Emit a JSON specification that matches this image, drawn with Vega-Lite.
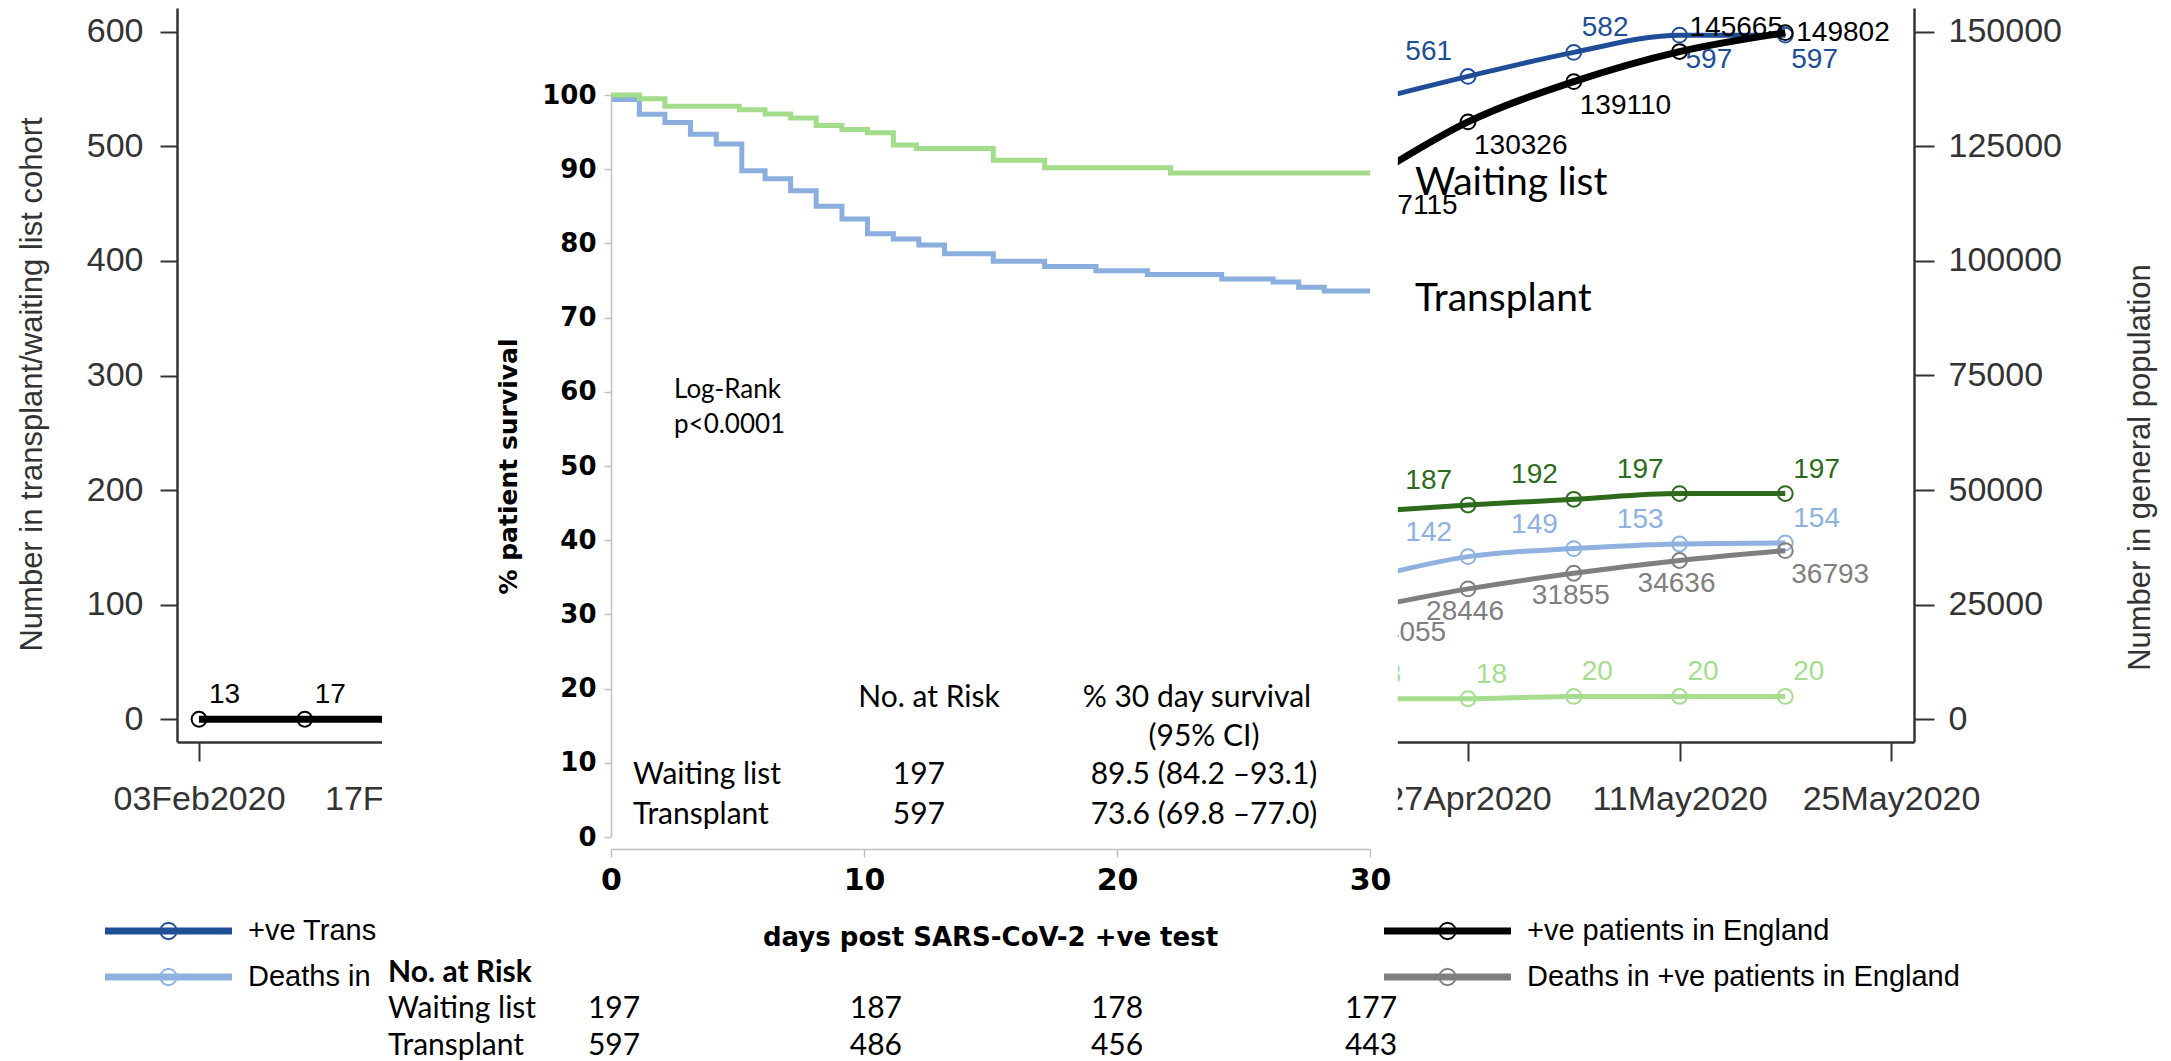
{
  "$schema": "https://vega.github.io/schema/vega-lite/v6.json",
  "width": 2171,
  "height": 1061,
  "padding": 0,
  "autosize": {"type": "none"},
  "background": "white",
  "config": {"view": {"stroke": null}, "axis": {"grid": false}, "font": "Liberation Sans"},
  "datasets": {
    "bg": [
      {"series": "+ve patients in England", "date": "2020-02-03", "value": 13},
      {"series": "+ve patients in England", "date": "2020-02-10", "value": 17},
      {"series": "+ve patients in England", "date": "2020-02-17", "value": 20},
      {"series": "+ve patients in England", "date": "2020-04-20", "value": 117115},
      {"series": "+ve patients in England", "date": "2020-04-27", "value": 130326},
      {"series": "+ve patients in England", "date": "2020-05-04", "value": 139110},
      {"series": "+ve patients in England", "date": "2020-05-11", "value": 145665},
      {"series": "+ve patients in England", "date": "2020-05-18", "value": 149802},
      {"series": "Deaths in +ve patients in England", "date": "2020-04-20", "value": 24055},
      {"series": "Deaths in +ve patients in England", "date": "2020-04-27", "value": 28446},
      {"series": "Deaths in +ve patients in England", "date": "2020-05-04", "value": 31855},
      {"series": "Deaths in +ve patients in England", "date": "2020-05-11", "value": 34636},
      {"series": "Deaths in +ve patients in England", "date": "2020-05-18", "value": 36793},
      {"series": "+ve Transplant patients", "date": "2020-04-20", "value": 538},
      {"series": "+ve Transplant patients", "date": "2020-04-27", "value": 561},
      {"series": "+ve Transplant patients", "date": "2020-05-04", "value": 582},
      {"series": "+ve Transplant patients", "date": "2020-05-11", "value": 597},
      {"series": "+ve Transplant patients", "date": "2020-05-18", "value": 597},
      {"series": "Deaths in transplant patients", "date": "2020-04-20", "value": 122},
      {"series": "Deaths in transplant patients", "date": "2020-04-27", "value": 142},
      {"series": "Deaths in transplant patients", "date": "2020-05-04", "value": 149},
      {"series": "Deaths in transplant patients", "date": "2020-05-11", "value": 153},
      {"series": "Deaths in transplant patients", "date": "2020-05-18", "value": 154},
      {"series": "+ve Waiting list patients", "date": "2020-04-20", "value": 181},
      {"series": "+ve Waiting list patients", "date": "2020-04-27", "value": 187},
      {"series": "+ve Waiting list patients", "date": "2020-05-04", "value": 192},
      {"series": "+ve Waiting list patients", "date": "2020-05-11", "value": 197},
      {"series": "+ve Waiting list patients", "date": "2020-05-18", "value": 197},
      {"series": "Deaths in waiting list patients", "date": "2020-04-20", "value": 18},
      {"series": "Deaths in waiting list patients", "date": "2020-04-27", "value": 18},
      {"series": "Deaths in waiting list patients", "date": "2020-05-04", "value": 20},
      {"series": "Deaths in waiting list patients", "date": "2020-05-11", "value": 20},
      {"series": "Deaths in waiting list patients", "date": "2020-05-18", "value": 20}
    ],
    "km": [
      {"group": "Transplant", "day": 0, "pct": 99.4},
      {"group": "Transplant", "day": 1.12, "pct": 97.4},
      {"group": "Transplant", "day": 2.13, "pct": 96.3},
      {"group": "Transplant", "day": 3.14, "pct": 94.7},
      {"group": "Transplant", "day": 4.16, "pct": 93.4},
      {"group": "Transplant", "day": 5.17, "pct": 89.8},
      {"group": "Transplant", "day": 6.09, "pct": 88.7},
      {"group": "Transplant", "day": 7.1, "pct": 87.1},
      {"group": "Transplant", "day": 8.11, "pct": 85.0},
      {"group": "Transplant", "day": 9.13, "pct": 83.3},
      {"group": "Transplant", "day": 10.14, "pct": 81.3},
      {"group": "Transplant", "day": 11.16, "pct": 80.6},
      {"group": "Transplant", "day": 12.17, "pct": 79.8},
      {"group": "Transplant", "day": 13.18, "pct": 78.6},
      {"group": "Transplant", "day": 15.11, "pct": 77.6},
      {"group": "Transplant", "day": 17.14, "pct": 76.9},
      {"group": "Transplant", "day": 19.17, "pct": 76.3},
      {"group": "Transplant", "day": 21.2, "pct": 75.8},
      {"group": "Transplant", "day": 24.14, "pct": 75.2},
      {"group": "Transplant", "day": 26.17, "pct": 74.8},
      {"group": "Transplant", "day": 27.18, "pct": 74.1},
      {"group": "Transplant", "day": 28.19, "pct": 73.6},
      {"group": "Transplant", "day": 30, "pct": 73.6},
      {"group": "Waiting list", "day": 0, "pct": 100},
      {"group": "Waiting list", "day": 1.12, "pct": 99.5},
      {"group": "Waiting list", "day": 2.13, "pct": 98.5},
      {"group": "Waiting list", "day": 5.07, "pct": 98.0},
      {"group": "Waiting list", "day": 6.09, "pct": 97.45},
      {"group": "Waiting list", "day": 7.1, "pct": 96.9},
      {"group": "Waiting list", "day": 8.11, "pct": 95.9},
      {"group": "Waiting list", "day": 9.13, "pct": 95.35},
      {"group": "Waiting list", "day": 10.14, "pct": 94.9},
      {"group": "Waiting list", "day": 11.16, "pct": 93.25},
      {"group": "Waiting list", "day": 12.07, "pct": 92.8},
      {"group": "Waiting list", "day": 15.11, "pct": 91.2},
      {"group": "Waiting list", "day": 17.14, "pct": 90.2},
      {"group": "Waiting list", "day": 22.11, "pct": 89.5},
      {"group": "Waiting list", "day": 30, "pct": 89.5}
    ],
    "kmcenter": [
      {"text": "No. at Risk", "day": 12.57, "pct": 18.7},
      {"text": "% 30 day survival", "day": 23.16, "pct": 18.7},
      {"text": "(95% CI)", "day": 23.44, "pct": 13.5},
      {"text": "197", "day": 12.17, "pct": 8.36},
      {"text": "89.5 (84.2 –93.1)", "day": 23.44, "pct": 8.36},
      {"text": "597", "day": 12.17, "pct": 2.96},
      {"text": "73.6 (69.8 –77.0)", "day": 23.44, "pct": 2.96},
      {"text": "197", "day": 0.12, "pct": -23.2},
      {"text": "187", "day": 10.47, "pct": -23.2},
      {"text": "178", "day": 20.0, "pct": -23.2},
      {"text": "177", "day": 30.04, "pct": -23.2},
      {"text": "597", "day": 0.12, "pct": -28.2},
      {"text": "486", "day": 10.47, "pct": -28.2},
      {"text": "456", "day": 20.0, "pct": -28.2},
      {"text": "443", "day": 30.04, "pct": -28.2}
    ],
    "kmleft": [
      {"text": "Waiting list", "day": 0.87, "pct": 8.36},
      {"text": "Transplant", "day": 0.87, "pct": 2.96},
      {"text": "Waiting list", "day": -8.81, "pct": -23.2},
      {"text": "Transplant", "day": -8.81, "pct": -28.2}
    ],
    "kmlog": [
      {"text": "Log-Rank", "day": 2.49, "pct": 60.2},
      {"text": "p<0.0001", "day": 2.49, "pct": 55.5}
    ],
    "kmbold": [
      {"text": "No. at Risk", "day": -8.81, "pct": -18.3}
    ],
    "kmbig": [
      {"text": "Waiting list", "day": 31.78, "pct": 88.2},
      {"text": "Transplant", "day": 31.78, "pct": 72.5}
    ]
  },
  "layer": [
    {
      "data": {"name": "bg"},
      "encoding": {
        "x": {
          "field": "date", "type": "temporal",
          "scale": {"type": "utc", "nice": false, "range": [177, 1914],
            "domain": [{"year": 2020, "month": 2, "date": 1, "hours": 13, "minutes": 0, "utc": true},
                       {"year": 2020, "month": 5, "date": 26, "hours": 12, "minutes": 30, "utc": true}]},
          "axis": {
            "orient": "bottom", "offset": -319, "title": null, "format": "%d%b%Y",
            "values": [
              {"year": 2020, "month": 2, "date": 3, "utc": true},
              {"year": 2020, "month": 2, "date": 17, "utc": true},
              {"year": 2020, "month": 4, "date": 27, "utc": true},
              {"year": 2020, "month": 5, "date": 11, "utc": true},
              {"year": 2020, "month": 5, "date": 25, "utc": true}
            ],
            "labelFont": "Liberation Sans", "labelFontSize": 34, "labelColor": "#333333", "labelPadding": 21,
            "labelFlush": false, "labelOverlap": false, "labelAngle": 0,
            "tickSize": 19, "tickWidth": 2, "tickColor": "#333333",
            "domainColor": "#333333", "domainWidth": 2.5, "grid": false, "zindex": 0
          }
        },
        "color": {
          "field": "series", "type": "nominal",
          "scale": {
            "domain": ["+ve Transplant patients", "+ve patients in England", "Deaths in transplant patients", "Deaths in +ve patients in England", "+ve Waiting list patients", "Deaths in waiting list patients"],
            "range": ["#1f4e97", "#000000", "#8fb1e0", "#7f7f7f", "#2e6a1c", "#a6dd8e"]
          },
          "legend": {
            "orient": "none", "legendX": 105, "legendY": 911, "title": null, "padding": 0,
            "columns": 2, "columnPadding": 1007, "rowPadding": 6, "clipHeight": 40,
            "values": ["+ve Transplant patients", "Deaths in transplant patients", "+ve patients in England", "Deaths in +ve patients in England"],
            "labelExpr": "datum.label == '+ve Transplant patients' ? '+ve Trans' : (datum.label == 'Deaths in transplant patients' ? 'Deaths in' : datum.label)",
            "symbolType": "M-1,-0.055H1V0.055H-1Z M0.145,0L0.126,0.0725L0.0725,0.126L0,0.145L-0.0725,0.126L-0.126,0.0725L-0.145,0L-0.126,-0.0725L-0.0725,-0.126L0,-0.145L0.0725,-0.126L0.126,-0.0725Z M0.115,0L0.1,-0.0575L0.0575,-0.1L0,-0.115L-0.0575,-0.1L-0.1,-0.0575L-0.115,0L-0.1,0.0575L-0.0575,0.1L0,0.115L0.0575,0.1L0.1,0.0575Z",
            "symbolSize": 16129, "symbolStrokeWidth": 0, "symbolOffset": 0,
            "labelFont": "Liberation Sans", "labelFontSize": 29, "labelColor": "#000000", "labelOffset": 16, "labelLimit": 800,
            "encoding": {
              "symbols": {
                "fill": {
                  "condition": [
                    {"test": "datum.value == '+ve Transplant patients'", "value": "#1f4e97"},
                    {"test": "datum.value == 'Deaths in transplant patients'", "value": "#8fb1e0"},
                    {"test": "datum.value == '+ve patients in England'", "value": "#000000"}
                  ],
                  "value": "#7f7f7f"
                },
                "stroke": {"value": "transparent"},
                "strokeWidth": {"value": 0},
                "strokeOpacity": {"value": 0},
                "fillOpacity": {"value": 1},
                "opacity": {"value": 1}
              }
            }
          }
        }
      },
      "layer": [
        {
          "transform": [{"filter": {"field": "series", "oneOf": ["+ve Transplant patients", "Deaths in transplant patients", "+ve Waiting list patients", "Deaths in waiting list patients"]}}],
          "encoding": {
            "y": {
              "field": "value", "type": "quantitative",
              "scale": {"domain": [-19.5, 620.7], "range": [741.7, 8], "nice": false, "zero": false},
              "axis": {
                "orient": "left", "offset": -177, "values": [0, 100, 200, 300, 400, 500, 600], "format": "d",
                "title": "Number in transplant/waiting list cohort", "titleFont": "Liberation Sans", "titleFontWeight": "normal",
                "titleFontSize": 31, "titleColor": "#333333", "titleX": -145, "titleY": 384, "titleAngle": 270, "titleBaseline": "middle", "titleAlign": "center",
                "labelFont": "Liberation Sans", "labelFontSize": 34, "labelColor": "#333333", "labelPadding": 17,
                "tickSize": 17, "tickWidth": 2, "tickColor": "#333333", "domainColor": "#333333", "domainWidth": 2.5,
                "grid": false, "zindex": 0, "labelFlush": false, "labelOverlap": false
              }
            }
          },
          "layer": [
            {"mark": {"type": "line", "interpolate": "monotone", "strokeWidth": 5}},
            {"mark": {"type": "point", "filled": false, "size": 220, "strokeWidth": 2, "opacity": 1}},
            {
              "transform": [{"filter": "(datum.series=='+ve Transplant patients' && (utcmonth(datum.date)*100+utcdate(datum.date))<=327) || ((datum.series=='+ve Waiting list patients' || datum.series=='Deaths in transplant patients') && (utcmonth(datum.date)*100+utcdate(datum.date))<=411)"}],
              "mark": {"type": "text", "align": "right", "baseline": "middle", "dx": -16, "dy": -24, "fontSize": 28, "font": "Liberation Sans"},
              "encoding": {"text": {"field": "value", "type": "quantitative", "format": "d"}}
            },
            {
              "transform": [{"filter": "(datum.series=='+ve Transplant patients' && (utcmonth(datum.date)*100+utcdate(datum.date))==404) || ((datum.series=='+ve Waiting list patients' || datum.series=='Deaths in transplant patients') && (utcmonth(datum.date)*100+utcdate(datum.date))==418) || datum.series=='Deaths in waiting list patients'"}],
              "mark": {"type": "text", "align": "left", "baseline": "middle", "dx": 8, "dy": -24, "fontSize": 28, "font": "Liberation Sans"},
              "encoding": {"text": {"field": "value", "type": "quantitative", "format": "d"}}
            },
            {
              "transform": [{"filter": "datum.series=='+ve Transplant patients' && (utcmonth(datum.date)*100+utcdate(datum.date))>=411"}],
              "mark": {"type": "text", "align": "left", "baseline": "middle", "dx": 6, "dy": 25, "fontSize": 28, "font": "Liberation Sans"},
              "encoding": {"text": {"field": "value", "type": "quantitative", "format": "d"}}
            }
          ]
        },
        {
          "transform": [{"filter": {"field": "series", "oneOf": ["+ve patients in England", "Deaths in +ve patients in England"]}}],
          "encoding": {
            "y": {
              "field": "value", "type": "quantitative",
              "scale": {"domain": [-4887, 155170], "range": [741.7, 8], "nice": false, "zero": false},
              "axis": {
                "orient": "right", "offset": -257, "values": [0, 25000, 50000, 75000, 100000, 125000, 150000], "format": "d",
                "title": "Number in general population", "titleFont": "Liberation Sans", "titleFontWeight": "normal",
                "titleFontSize": 31, "titleColor": "#333333", "titleX": 226, "titleY": 467, "titleAngle": 270, "titleBaseline": "middle", "titleAlign": "center",
                "labelFont": "Liberation Sans", "labelFontSize": 34, "labelColor": "#333333", "labelPadding": 14,
                "tickSize": 20, "tickWidth": 2, "tickColor": "#333333", "domainColor": "#333333", "domainWidth": 2.5,
                "grid": false, "zindex": 0, "labelFlush": false, "labelOverlap": false
              }
            }
          },
          "layer": [
            {"transform": [{"filter": "datum.series == 'Deaths in +ve patients in England'"}], "mark": {"type": "line", "interpolate": "monotone", "strokeWidth": 5}},
            {"transform": [{"filter": "datum.series == '+ve patients in England'"}], "mark": {"type": "line", "interpolate": "monotone", "strokeWidth": 7}},
            {"mark": {"type": "point", "filled": false, "size": 220, "strokeWidth": 2, "opacity": 1}},
            {
              "transform": [{"filter": "datum.series=='+ve patients in England' && ((utcmonth(datum.date)*100+utcdate(datum.date))<=117 || (utcmonth(datum.date)*100+utcdate(datum.date))==411)"}],
              "mark": {"type": "text", "align": "left", "baseline": "middle", "dx": 10, "dy": -24, "fontSize": 28, "font": "Liberation Sans"},
              "encoding": {"text": {"field": "value", "type": "quantitative", "format": "d"}}
            },
            {
              "transform": [{"filter": "(datum.series=='+ve patients in England' && (utcmonth(datum.date)*100+utcdate(datum.date))>=320 && (utcmonth(datum.date)*100+utcdate(datum.date))<=404) || (datum.series=='Deaths in +ve patients in England' && ((utcmonth(datum.date)*100+utcdate(datum.date))==320 || (utcmonth(datum.date)*100+utcdate(datum.date))==418))"}],
              "mark": {"type": "text", "align": "left", "baseline": "middle", "dx": 6, "dy": 24, "fontSize": 28, "font": "Liberation Sans"},
              "encoding": {"text": {"field": "value", "type": "quantitative", "format": "d"}}
            },
            {
              "transform": [{"filter": "datum.series=='Deaths in +ve patients in England' && (utcmonth(datum.date)*100+utcdate(datum.date))>=327 && (utcmonth(datum.date)*100+utcdate(datum.date))<=411"}],
              "mark": {"type": "text", "align": "center", "baseline": "middle", "dx": -3, "dy": 23, "fontSize": 28, "font": "Liberation Sans"},
              "encoding": {"text": {"field": "value", "type": "quantitative", "format": "d"}}
            },
            {
              "transform": [{"filter": "datum.series=='+ve patients in England' && (utcmonth(datum.date)*100+utcdate(datum.date))==418"}],
              "mark": {"type": "text", "align": "left", "baseline": "middle", "dx": 11, "dy": 0, "fontSize": 28, "font": "Liberation Sans"},
              "encoding": {"text": {"field": "value", "type": "quantitative", "format": "d"}}
            }
          ]
        }
      ],
      "resolve": {"scale": {"y": "independent"}}
    },
    {
      "data": {"values": [{"box": "panel"}]},
      "mark": {"type": "rect", "fill": "#ffffff", "opacity": 1},
      "encoding": {
        "x": {"datum": -9.05, "type": "quantitative", "scale": {"domain": [0, 30], "range": [611, 1370], "nice": false, "zero": false}, "axis": null},
        "x2": {"datum": 31.1},
        "y": {"datum": 112.8, "type": "quantitative", "scale": {"domain": [0, 100], "range": [837, 95], "nice": false, "zero": false}, "axis": null},
        "y2": {"datum": -30.2}
      }
    },
    {
      "encoding": {
        "x": {
          "field": "day", "type": "quantitative",
          "scale": {"domain": [0, 30], "range": [611, 1370], "nice": false, "zero": false},
          "axis": {
            "orient": "bottom", "offset": -212, "values": [0, 10, 20, 30],
            "title": "days post SARS-CoV-2 +ve test", "titleFont": "DejaVu Sans", "titleFontWeight": "bold", "titleFontSize": 26,
            "titleColor": "#000000", "titleX": 990, "titleY": 88, "titleBaseline": "middle", "titleAlign": "center",
            "labelFont": "DejaVu Sans", "labelFontWeight": "bold", "labelFontSize": 30, "labelColor": "#000000", "labelPadding": 8,
            "tickSize": 8, "tickWidth": 1.5, "tickColor": "#c0c0c0", "domainColor": "#c0c0c0", "domainWidth": 1.5,
            "grid": false, "zindex": 1, "labelFlush": false, "labelOverlap": false
          }
        },
        "y": {
          "field": "pct", "type": "quantitative",
          "scale": {"domain": [0, 100], "range": [837, 95], "nice": false, "zero": false},
          "axis": {
            "orient": "left", "offset": -611, "values": [0, 10, 20, 30, 40, 50, 60, 70, 80, 90, 100],
            "title": "% patient survival", "titleFont": "DejaVu Sans", "titleFontWeight": "bold", "titleFontSize": 25,
            "titleColor": "#000000", "titleX": -103, "titleY": 466, "titleAngle": 270, "titleBaseline": "middle", "titleAlign": "center",
            "labelFont": "DejaVu Sans", "labelFontWeight": "bold", "labelFontSize": 26, "labelColor": "#000000", "labelPadding": 8,
            "tickSize": 7, "tickWidth": 1.5, "tickColor": "#c0c0c0", "domainColor": "#c0c0c0", "domainWidth": 1.5,
            "grid": false, "zindex": 1, "labelFlush": false, "labelOverlap": false
          }
        }
      },
      "layer": [
        {
          "data": {"name": "km"},
          "transform": [{"filter": "datum.group == 'Transplant'"}],
          "mark": {"type": "line", "interpolate": "step-after", "strokeWidth": 5, "color": "#8aaedd"}
        },
        {
          "data": {"name": "km"},
          "transform": [{"filter": "datum.group == 'Waiting list'"}],
          "mark": {"type": "line", "interpolate": "step-after", "strokeWidth": 5, "color": "#a3dc8b"}
        },
        {
          "data": {"name": "kmcenter"},
          "mark": {"type": "text", "align": "center", "baseline": "middle", "font": "Lato", "fontSize": 30, "color": "#000000"},
          "encoding": {"text": {"field": "text", "type": "nominal"}}
        },
        {
          "data": {"name": "kmleft"},
          "mark": {"type": "text", "align": "left", "baseline": "middle", "font": "Lato", "fontSize": 30, "color": "#000000"},
          "encoding": {"text": {"field": "text", "type": "nominal"}}
        },
        {
          "data": {"name": "kmlog"},
          "mark": {"type": "text", "align": "left", "baseline": "middle", "font": "Lato", "fontSize": 26, "color": "#000000"},
          "encoding": {"text": {"field": "text", "type": "nominal"}}
        },
        {
          "data": {"name": "kmbold"},
          "mark": {"type": "text", "align": "left", "baseline": "middle", "font": "Lato", "fontWeight": "bold", "fontSize": 30, "color": "#000000"},
          "encoding": {"text": {"field": "text", "type": "nominal"}}
        },
        {
          "data": {"name": "kmbig"},
          "mark": {"type": "text", "align": "left", "baseline": "middle", "font": "Lato", "fontSize": 39, "color": "#000000"},
          "encoding": {"text": {"field": "text", "type": "nominal"}}
        }
      ]
    }
  ],
  "resolve": {"scale": {"x": "independent", "y": "independent"}}
}
